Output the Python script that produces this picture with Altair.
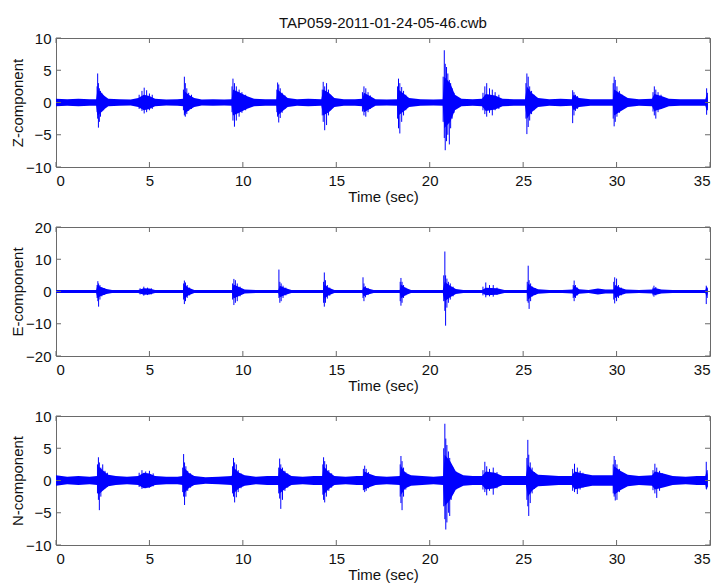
import altair as alt
import pandas as pd

TITLE = "TAP059-2011-01-24-05-46.cwb"
X_TITLE = "Time (sec)"
X_TICKS = [0, 5, 10, 15, 20, 25, 30, 35]
Z_TICKS = [-10, -5, 0, 5, 10]
E_TICKS = [-20, -10, 0, 10, 20]
N_TICKS = [-10, -5, 0, 5, 10]

# dense part of each trace: (time, half-width of the dense band)
Z_BAND = [(0, 0.6), (0.6, 0.5), (1.2, 0.6), (1.8, 0.5), (2.15, 0.5), (2.22, 2.0), (2.4, 1.6), (2.6, 1.0),
          (2.8, 0.6), (3.4, 0.5), (4.0, 0.45), (4.4, 0.7), (4.7, 1.2), (5.0, 1.0), (5.3, 0.6), (5.9, 0.45),
          (6.5, 0.5), (6.82, 0.6), (6.87, 1.8), (7.1, 1.2), (7.4, 0.7), (7.8, 0.45), (8.4, 0.5), (9.0, 0.45),
          (9.4, 0.5), (9.47, 2.0), (9.8, 1.6), (10.2, 1.0), (10.6, 0.6), (11.2, 0.5), (11.8, 0.5), (11.86, 2.0),
          (12.1, 1.4), (12.4, 0.7), (12.9, 0.5), (13.5, 0.6), (14.2, 0.5), (14.3, 2.0), (14.6, 1.5), (14.9, 0.7),
          (15.4, 0.5), (16.0, 0.5), (16.4, 0.6), (16.48, 1.5), (16.8, 1.0), (17.1, 0.5), (17.7, 0.45), (18.25, 0.5),
          (18.32, 2.0), (18.6, 1.4), (18.9, 0.7), (19.5, 0.5), (20.2, 0.45), (20.7, 0.5), (20.78, 4.0), (21.1, 3.0),
          (21.35, 1.2), (21.7, 0.6), (22.3, 0.5), (22.8, 0.6), (23.0, 1.3), (23.5, 1.1), (23.9, 0.6), (24.5, 0.5),
          (25.1, 0.5), (25.2, 2.5), (25.45, 1.5), (25.8, 0.7), (26.4, 0.5), (27.0, 0.6), (27.6, 0.5), (27.7, 1.2),
          (28.0, 0.7), (28.6, 0.5), (29.2, 0.5), (29.8, 0.5), (29.87, 2.0), (30.2, 1.4), (30.6, 0.7), (31.2, 0.5),
          (31.9, 0.6), (32.02, 1.3), (32.4, 1.0), (32.8, 0.6), (33.4, 0.5), (34.1, 0.5), (34.75, 0.5), (34.82, 1.2),
          (34.88, 0.7)]

E_BAND = [(0, 0.5), (0.7, 0.45), (1.4, 0.5), (2.15, 0.45), (2.22, 2.0), (2.4, 1.4), (2.7, 0.8), (3.0, 0.5),
          (3.7, 0.45), (4.4, 0.5), (4.7, 1.0), (5.0, 0.9), (5.3, 0.5), (6.0, 0.45), (6.8, 0.5), (6.87, 2.2),
          (7.1, 1.2), (7.4, 0.5), (8.2, 0.45), (9.0, 0.45), (9.42, 0.5), (9.5, 2.2), (9.8, 1.4), (10.1, 0.6),
          (10.8, 0.45), (11.5, 0.5), (11.9, 0.5), (11.97, 1.8), (12.3, 1.0), (12.6, 0.5), (13.3, 0.45), (14.0, 0.5),
          (14.3, 0.5), (14.37, 2.2), (14.6, 1.2), (14.9, 0.5), (15.6, 0.45), (16.4, 0.5), (16.46, 1.5), (16.7, 0.9),
          (17.0, 0.5), (17.8, 0.45), (18.4, 0.5), (18.46, 2.2), (18.7, 1.2), (19.0, 0.5), (19.8, 0.45), (20.7, 0.45),
          (20.8, 3.0), (21.1, 1.8), (21.4, 0.8), (21.8, 0.5), (22.4, 0.45), (22.8, 0.5), (23.0, 1.2), (23.6, 1.0),
          (24.0, 0.5), (24.7, 0.45), (25.2, 0.5), (25.27, 2.5), (25.5, 1.4), (25.8, 0.7), (26.4, 0.5), (27.1, 0.5),
          (27.65, 0.6), (27.73, 1.8), (28.0, 0.7), (28.5, 0.5), (29.0, 0.9), (29.4, 0.6), (29.85, 0.6), (29.92, 2.0),
          (30.2, 1.2), (30.5, 0.6), (31.2, 0.45), (31.9, 0.6), (32.05, 1.1), (32.4, 0.6), (33.0, 0.45), (34.0, 0.45),
          (34.75, 0.5), (34.82, 1.6), (34.88, 0.7)]

N_BAND = [(0, 0.8), (0.6, 0.6), (1.2, 0.7), (1.8, 0.6), (2.2, 0.7), (2.27, 2.2), (2.5, 1.6), (2.8, 0.9),
          (3.2, 0.7), (3.8, 0.6), (4.4, 0.7), (4.7, 1.2), (5.0, 1.1), (5.3, 0.7), (5.9, 0.6), (6.5, 0.6),
          (6.78, 0.7), (6.85, 2.0), (7.1, 1.2), (7.4, 0.7), (8.0, 0.5), (8.7, 0.6), (9.4, 0.7), (9.5, 2.0),
          (9.8, 1.2), (10.1, 0.8), (10.7, 0.6), (11.3, 0.7), (11.9, 0.7), (11.97, 2.0), (12.3, 1.2), (12.6, 0.7),
          (13.2, 0.6), (13.8, 0.7), (14.25, 0.7), (14.32, 2.2), (14.6, 1.3), (14.9, 0.7), (15.5, 0.6), (16.1, 0.7),
          (16.42, 0.7), (16.5, 1.4), (16.8, 1.0), (17.1, 0.7), (17.7, 0.6), (18.4, 0.7), (18.46, 2.2), (18.7, 1.2),
          (19.0, 0.8), (19.6, 0.7), (20.2, 0.6), (20.72, 0.7), (20.8, 4.0), (21.1, 3.0), (21.4, 1.4), (21.8, 0.8),
          (22.3, 0.7), (22.8, 0.7), (23.0, 1.4), (23.5, 1.2), (23.9, 0.7), (24.5, 0.7), (25.15, 0.7), (25.25, 2.5),
          (25.5, 1.5), (25.8, 0.9), (26.3, 0.8), (26.9, 0.7), (27.6, 0.7), (27.75, 1.4), (28.2, 1.1), (28.7, 0.8),
          (29.3, 0.8), (29.8, 0.8), (29.87, 2.2), (30.2, 1.5), (30.6, 0.9), (31.2, 0.7), (31.9, 0.8), (32.05, 1.4),
          (32.5, 1.1), (33.0, 0.7), (33.7, 0.6), (34.3, 0.7), (34.75, 0.7), (34.82, 1.5), (34.88, 0.9)]

# individual peaks: (time, max, min)
Z_PEAKS = [(2.20, 2.5, -1.5), (2.23, 4.5, -2.5), (2.27, 3.0, -3.9), (2.32, 2.2, -3.0), (2.38, 1.8, -2.2),
           (2.45, 1.5, -1.4), (2.55, 1.0, -1.2),
           (4.45, 1.2, -1.0), (4.6, 1.8, -1.3), (4.72, 2.3, -1.7), (4.85, 1.9, -1.5), (5.0, 1.4, -1.2), (5.15, 1.2, -1.0),
           (6.82, 2.0, -1.2), (6.87, 4.0, -2.0), (6.92, 3.0, -2.2), (7.0, 2.2, -1.8), (7.1, 1.5, -1.3), (7.25, 1.2, -1.0),
           (9.42, 2.5, -1.5), (9.47, 3.7, -2.8), (9.55, 3.0, -3.75), (9.65, 2.5, -2.8), (9.8, 2.0, -2.2),
           (9.95, 1.6, -1.6), (10.15, 1.2, -1.2),
           (11.82, 2.0, -1.5), (11.86, 3.1, -2.2), (11.92, 2.8, -3.1), (12.0, 2.2, -2.4), (12.1, 1.5, -1.6), (12.25, 1.1, -1.0),
           (14.25, 2.0, -2.0), (14.3, 3.2, -3.0), (14.38, 2.5, -4.3), (14.48, 3.0, -3.5), (14.58, 2.0, -2.0), (14.7, 1.2, -1.2),
           (16.4, 1.6, -1.4), (16.48, 2.5, -2.0), (16.58, 2.2, -2.2), (16.7, 1.6, -1.5), (16.82, 1.1, -1.0),
           (18.28, 2.5, -2.5), (18.33, 3.7, -4.0), (18.4, 3.0, -4.8), (18.5, 2.4, -3.0), (18.6, 1.8, -2.0), (18.72, 1.2, -1.2),
           (20.72, 4.0, -3.0), (20.78, 8.1, -5.5), (20.83, 6.0, -7.4), (20.9, 5.5, -6.0), (20.97, 4.5, -5.0),
           (21.05, 3.5, -6.5), (21.12, 3.0, -4.0), (21.2, 2.2, -2.5), (21.3, 1.5, -1.6),
           (22.85, 1.5, -1.2), (22.95, 2.5, -1.8), (23.05, 3.0, -2.2), (23.2, 2.2, -1.6), (23.35, 2.0, -2.0),
           (23.5, 1.6, -1.2), (23.7, 1.2, -1.0),
           (25.15, 3.0, -2.5), (25.2, 4.5, -4.9), (25.27, 4.0, -3.8), (25.35, 2.5, -2.8), (25.45, 1.8, -1.8), (25.58, 1.2, -1.2),
           (27.65, 1.9, -3.2), (27.72, 1.6, -2.0), (27.8, 1.2, -1.3), (27.9, 1.0, -1.0),
           (29.82, 3.0, -2.5), (29.87, 4.0, -3.7), (29.93, 3.5, -3.0), (30.02, 2.5, -2.2), (30.15, 1.8, -1.6), (30.3, 1.2, -1.1),
           (31.95, 1.6, -1.4), (32.02, 2.5, -2.0), (32.1, 2.0, -2.5), (32.22, 1.6, -1.5), (32.38, 1.2, -1.0),
           (34.82, 2.2, -1.9), (34.86, 1.5, -1.2)]

E_PEAKS = [(2.2, 2.0, -2.0), (2.24, 3.2, -3.0), (2.28, 2.5, -4.7), (2.35, 2.0, -2.5), (2.45, 1.3, -1.5), (2.6, 1.0, -1.0),
           (4.5, 1.0, -0.9), (4.7, 1.5, -1.3), (4.9, 1.2, -1.1), (5.1, 1.0, -0.9),
           (6.83, 2.5, -2.5), (6.87, 3.4, -3.9), (6.93, 2.8, -3.0), (7.02, 2.0, -2.0), (7.15, 1.2, -1.2),
           (9.45, 2.5, -2.5), (9.52, 3.9, -4.2), (9.6, 3.5, -3.5), (9.7, 2.5, -3.0), (9.85, 1.5, -1.5),
           (11.93, 6.8, -2.0), (11.98, 3.0, -3.5), (12.05, 2.5, -3.0), (12.15, 1.8, -2.0), (12.3, 1.2, -1.2),
           (14.32, 3.0, -3.5), (14.36, 5.9, -4.7), (14.42, 3.5, -3.5), (14.52, 2.0, -2.2), (14.65, 1.2, -1.3),
           (16.43, 4.4, -2.0), (16.48, 2.5, -3.0), (16.56, 1.6, -1.8), (16.7, 1.1, -1.1),
           (18.42, 3.0, -3.0), (18.46, 4.2, -4.4), (18.52, 3.0, -3.5), (18.6, 2.0, -2.0), (18.72, 1.2, -1.2),
           (20.75, 5.0, -3.0), (20.81, 12.4, -6.0), (20.85, 5.0, -10.6), (20.92, 4.0, -5.0), (21.0, 3.0, -3.5),
           (21.1, 2.5, -2.5), (21.25, 1.5, -1.5),
           (22.85, 1.5, -1.2), (23.0, 2.8, -1.8), (23.2, 2.0, -1.5), (23.4, 2.0, -1.6), (23.6, 1.2, -1.0),
           (25.22, 3.0, -3.0), (25.27, 8.0, -3.5), (25.32, 3.5, -5.4), (25.4, 2.5, -3.0), (25.5, 1.5, -1.5), (25.65, 1.0, -1.0),
           (27.68, 2.0, -2.0), (27.73, 3.4, -3.0), (27.8, 2.0, -2.0), (27.9, 1.2, -1.2),
           (29.85, 3.0, -2.5), (29.9, 4.4, -3.7), (30.0, 4.0, -3.0), (30.1, 2.0, -2.0), (30.25, 1.2, -1.2),
           (31.95, 1.2, -1.2), (32.0, 1.8, -1.6), (32.1, 1.4, -1.2),
           (34.8, 1.8, -3.9), (34.85, 1.2, -2.0)]

N_PEAKS = [(2.22, 2.5, -2.0), (2.27, 3.6, -3.0), (2.32, 2.8, -4.6), (2.4, 2.0, -2.5), (2.5, 2.5, -1.5),
           (2.62, 1.5, -1.2), (2.75, 1.2, -1.0),
           (4.45, 1.2, -1.0), (4.6, 1.6, -1.3), (4.8, 1.4, -1.2), (5.0, 1.5, -1.1), (5.2, 1.1, -0.9),
           (6.78, 2.0, -1.8), (6.83, 4.1, -2.5), (6.88, 2.8, -3.8), (6.95, 2.2, -2.5), (7.05, 1.5, -1.6), (7.2, 1.1, -1.1),
           (9.45, 2.2, -2.0), (9.5, 3.5, -2.5), (9.56, 2.8, -3.4), (9.65, 2.5, -2.6), (9.75, 1.6, -1.8), (9.9, 1.1, -1.2),
           (11.92, 2.0, -2.0), (11.97, 3.4, -2.8), (12.03, 2.5, -4.4), (12.12, 2.0, -3.0), (12.25, 1.5, -1.6), (12.4, 1.1, -1.1),
           (14.28, 2.5, -2.2), (14.32, 3.6, -3.0), (14.38, 3.0, -3.4), (14.47, 2.5, -2.5), (14.6, 1.6, -1.6), (14.75, 1.1, -1.1),
           (16.45, 1.8, -1.5), (16.52, 2.3, -1.8), (16.6, 1.8, -1.6), (16.72, 1.3, -1.2),
           (18.42, 2.5, -2.5), (18.46, 3.8, -3.5), (18.52, 3.0, -4.6), (18.6, 2.0, -2.5), (18.72, 1.3, -1.4),
           (20.75, 5.0, -4.0), (20.81, 8.8, -6.0), (20.86, 6.5, -7.6), (20.92, 5.5, -6.5), (21.0, 4.5, -5.0),
           (21.07, 3.5, -5.5), (21.15, 2.5, -3.0), (21.25, 2.0, -2.0), (21.4, 1.4, -1.4),
           (22.85, 1.6, -1.4), (22.95, 2.9, -1.8), (23.05, 2.2, -2.3), (23.2, 1.8, -1.6), (23.4, 2.0, -2.2), (23.6, 1.3, -1.2),
           (25.2, 3.5, -3.0), (25.25, 6.3, -4.0), (25.3, 4.0, -5.5), (25.38, 2.8, -3.5), (25.48, 2.0, -2.0), (25.6, 1.3, -1.3),
           (27.65, 1.8, -1.6), (27.75, 2.6, -1.8), (27.9, 2.0, -2.1), (28.05, 1.5, -1.4), (28.2, 1.2, -1.1),
           (29.82, 2.5, -2.0), (29.87, 3.8, -2.5), (29.93, 3.2, -3.1), (30.02, 2.5, -3.0), (30.15, 1.8, -1.8), (30.3, 1.2, -1.2),
           (31.95, 1.6, -1.5), (32.05, 2.6, -2.0), (32.15, 2.0, -2.7), (32.3, 1.5, -1.6), (32.45, 1.1, -1.0),
           (34.8, 2.9, -1.3), (34.85, 1.6, -1.0)]

W, H = 654, 129
BLUE = "#0000ff"
FRAME = "#6a6a6a"
FONT = "Liberation Sans"
TICK_LEN = 5


def panel(band, peaks, ydom, yticks, ytitle, title=None):
    band_df = pd.DataFrame(band, columns=["t", "hi"])
    band_df["lo"] = -band_df["hi"]
    peak_df = pd.DataFrame(peaks, columns=["t", "hi", "lo"])
    xt_df = pd.DataFrame({"t": X_TICKS})
    yt_df = pd.DataFrame({"hi": yticks})

    xs = alt.Scale(domain=[0, 35], nice=False, zero=False)
    ys = alt.Scale(domain=ydom, nice=False, zero=False)
    xaxis = alt.Axis(values=X_TICKS, title=X_TITLE, ticks=False, grid=False, domain=False,
                     labelPadding=6, titlePadding=1, format="d")
    yaxis = alt.Axis(values=yticks, title=ytitle, ticks=False, grid=False, domain=False,
                     labelPadding=5, titlePadding=0, format="d")
    X = alt.X("t:Q", scale=xs, axis=xaxis)
    Y = alt.Y("hi:Q", scale=ys, axis=yaxis)

    area = alt.Chart(band_df).mark_area(color=BLUE, opacity=1, interpolate="linear").encode(
        x=X, y=Y, y2="lo:Q")
    spikes = alt.Chart(peak_df).mark_rule(color=BLUE, strokeWidth=1).encode(
        x=X, y=Y, y2="lo:Q")
    bottom = alt.Chart(xt_df).mark_rule(color=FRAME, strokeWidth=1).encode(
        x=X, y=alt.value(H), y2=alt.value(H - TICK_LEN))
    top = alt.Chart(xt_df).mark_rule(color=FRAME, strokeWidth=1).encode(
        x=X, y=alt.value(0), y2=alt.value(TICK_LEN))
    left = alt.Chart(yt_df).mark_rule(color=FRAME, strokeWidth=1).encode(
        y=Y, x=alt.value(0), x2=alt.value(TICK_LEN))
    right = alt.Chart(yt_df).mark_rule(color=FRAME, strokeWidth=1).encode(
        y=Y, x=alt.value(W), x2=alt.value(W - TICK_LEN))

    props = dict(width=W, height=H)
    if title:
        props["title"] = alt.Title(title, fontSize=15, fontWeight="normal", font=FONT, color="#111",
                                   anchor="middle", frame="group", offset=0)
    return alt.layer(area, spikes, bottom, top, left, right).properties(**props)


chart = alt.vconcat(
    panel(Z_BAND, Z_PEAKS, [-10, 10], Z_TICKS, "Z-component", TITLE),
    panel(E_BAND, E_PEAKS, [-20, 20], E_TICKS, "E-component"),
    panel(N_BAND, N_PEAKS, [-10, 10], N_TICKS, "N-component"),
    spacing=14,
).configure(
    padding={"left": 10, "top": 15, "right": 3, "bottom": 2},
    background="white",
).configure_view(
    stroke=FRAME, strokeWidth=1,
).configure_axis(
    labelFont=FONT, labelFontSize=15, labelColor="#111",
    titleFont=FONT, titleFontSize=15, titleFontWeight="normal", titleColor="#111",
)

chart.save("out.html", embed_options={"renderer": "svg", "actions": False})
